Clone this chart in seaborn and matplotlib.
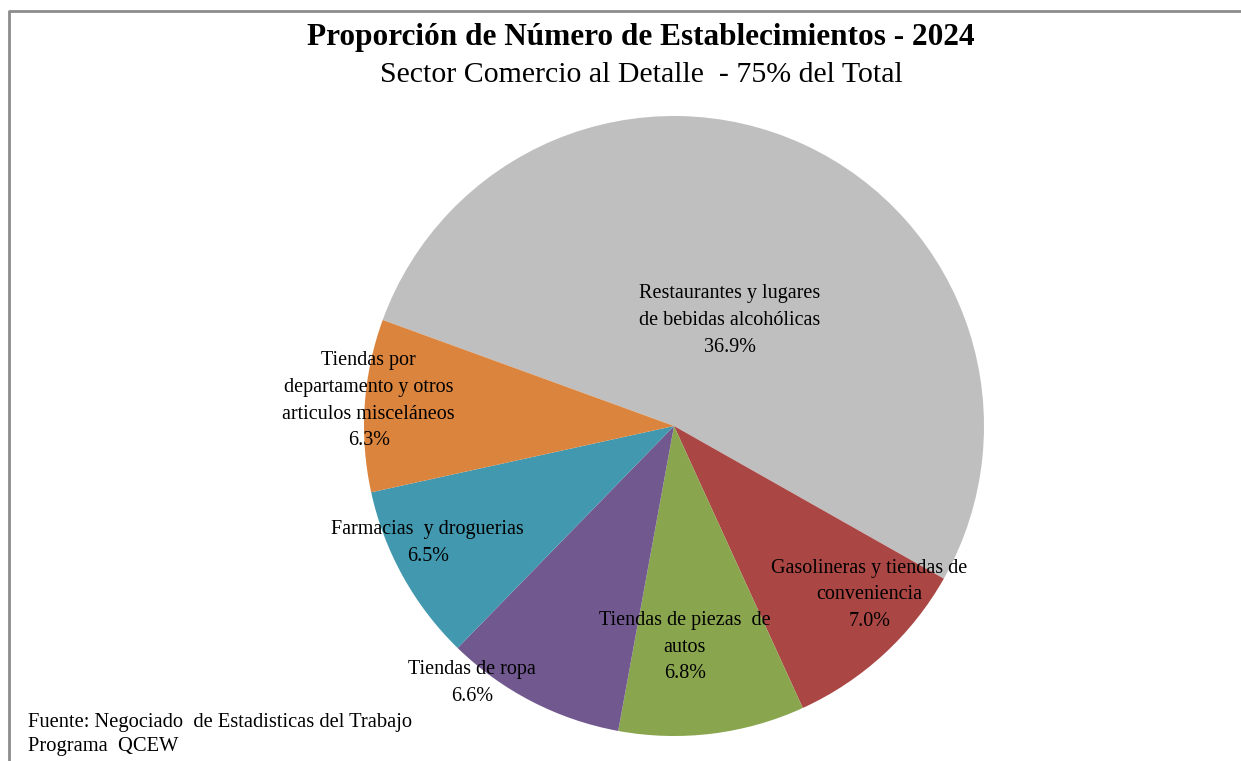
import matplotlib
matplotlib.use("Agg")
import matplotlib.pyplot as plt
import seaborn as sns

# Data
sectors = [
    "Restaurantes y lugares\nde bebidas alcohólicas",
    "Gasolineras y tiendas de\nconveniencia",
    "Tiendas de piezas  de\nautos",
    "Tiendas de ropa",
    "Farmacias  y droguerias",
    "Tiendas por\ndepartamento y otros\narticulos misceláneos",
]
shares = [36.9, 7.0, 6.8, 6.6, 6.5, 6.3]
colors = ["#BFBFBF", "#AA4643", "#89A54E", "#71588F", "#4198AF", "#DB843D"]

# label placement (pie data units, radius = 1)
label_pos = [(0.18, 0.34), (0.63, -0.545), (0.035, -0.713),
             (-0.652, -0.829), (-0.794, -0.377), (-0.985, 0.081)]

sns.set_theme(style="white")
plt.rcParams["font.family"] = ["Liberation Serif", "DejaVu Serif"]

W, H = 1241, 761
fig = plt.figure(figsize=(W / 100, H / 100), dpi=100)

# frame line like the original chart area
frame = fig.add_axes([0, 0, 1, 1])
frame.set_xlim(0, W)
frame.set_ylim(H, 0)
frame.axis("off")
frame.plot([8.5, 8.5, W], [H, 10.5, 10.5], color="#8C8C8C", lw=2)

# Pie
cx, cy, R = 674, 426, 310
ax = fig.add_axes([(cx - R) / W, (H - cy - R) / H, 2 * R / W, 2 * R / H])
ax.pie(shares, colors=sns.color_palette(colors), startangle=160,
       counterclock=False, radius=1,
       wedgeprops=dict(edgecolor="none", linewidth=0))
ax.set_xlim(-1, 1)
ax.set_ylim(-1, 1)
ax.axis("off")

for name, val, (x, y) in zip(sectors, shares, label_pos):
    ax.text(x, y, f"{name}\n{val:.1f}%", ha="center", va="center",
            fontsize=14.5, linespacing=1.55, color="black")

# Titles
fig.text(641 / W, 1 - 38 / H, "Proporción de Número de Establecimientos - 2024",
         ha="center", va="center", fontsize=22.5, fontweight="bold",
         color="black")
fig.text(641 / W, 1 - 75 / H, "Sector Comercio al Detalle  - 75% del Total",
         ha="center", va="center", fontsize=21.5, color="black")

# Source
fig.text(28 / W, 1 - 722 / H, "Fuente: Negociado  de Estadisticas del Trabajo",
         ha="left", va="center", fontsize=14.8, color="black")
fig.text(28 / W, 1 - 746 / H, "Programa  QCEW",
         ha="left", va="center", fontsize=14.8, color="black")

fig.savefig("out.png", dpi=100, facecolor="white")
